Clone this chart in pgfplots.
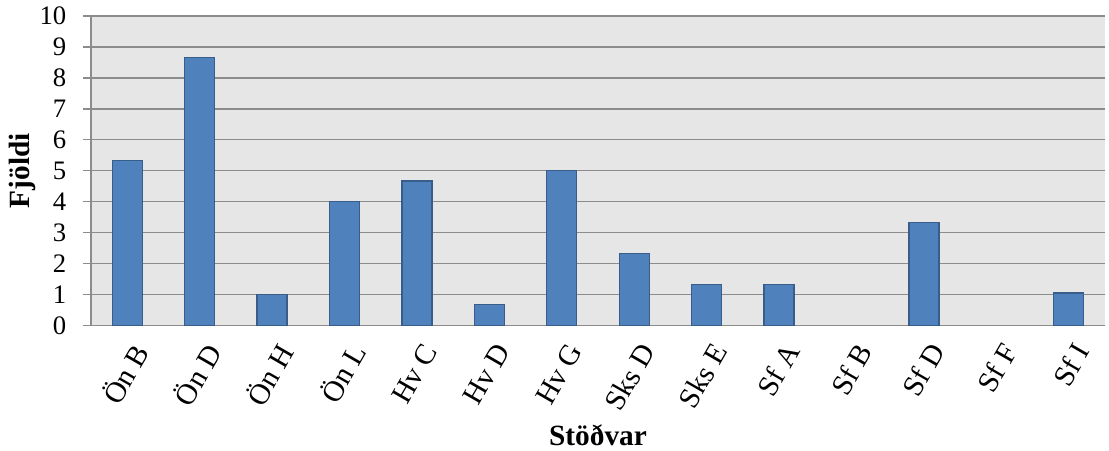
\documentclass[border=0pt]{standalone}
\usepackage{fontspec}
\setmainfont{Liberation Serif}
\usepackage{pgfplots}
\pgfplotsset{compat=1.18}
\definecolor{barfill}{HTML}{4F81BD}
\definecolor{barline}{HTML}{385D8A}
\definecolor{plotbg}{HTML}{E6E6E6}
\definecolor{gridc}{HTML}{8C8C8C}
\begin{document}
\begin{tikzpicture}
\begin{axis}[
    width=760pt, height=232pt,
    scale only axis,
    ybar, bar width=22.5pt, bar shift=0pt,
    xmin=-0.5, xmax=13.5,
    ymin=0, ymax=10,
    ytick={0,1,...,10},
    xtick={0,...,13},
    xticklabels={Ön B,Ön D,Ön H,Ön L,Hv C,Hv D,Hv G,Sks D,Sks E,Sf A,Sf B,Sf D,Sf F,Sf I},
    major x tick style={draw=none},
    extra x ticks={-0.5,0.5,1.5,2.5,3.5,4.5,5.5,6.5,7.5,8.5,9.5,10.5,11.5,12.5,13.5},
    extra x tick labels={},
    extra x tick style={tick style={gridc, line width=1pt}, grid=none},
    % shifts are in the rotated frame
    x tick label style={rotate=60, anchor=east, inner sep=0pt, xshift=-3.2pt, yshift=-13.4pt,
        font=\fontsize{22}{22}\selectfont},
    axis x line*=bottom, axis y line*=left,
    axis line style={gridc, line width=1pt},
    tick style={gridc, line width=1pt},
    tick align=outside, major tick length=6pt,
    ymajorgrids, grid style={gridc, line width=1pt},
    axis background/.style={fill=plotbg},
    y tick label style={font=\fontsize{20}{20}\selectfont, xshift=-9pt},
    /pgf/number format/assume math mode=true,
    ylabel={\textbf{Fjöldi}},
    xlabel={\textbf{Stöðvar}},
    label style={font=\fontsize{22}{22}\selectfont},
    ylabel style={yshift=-4pt},
    xlabel style={yshift=7pt},
    y filter/.expression={y==0 ? nan : y},
]
\addplot[fill=barfill, draw=barline, line width=1pt] coordinates {
    (0,5.33) (1,8.67) (2,1) (3,4) (4,4.67) (5,0.67) (6,5)
    (7,2.33) (8,1.33) (9,1.33) (10,0) (11,3.33) (12,0) (13,1.05)
};
\end{axis}
\pgfresetboundingbox
\path[use as bounding box] ([xshift=-68.25pt,yshift=-93.75pt]current axis.south west) rectangle ([xshift=3pt,yshift=12pt]current axis.north east);
\end{tikzpicture}
\end{document}
